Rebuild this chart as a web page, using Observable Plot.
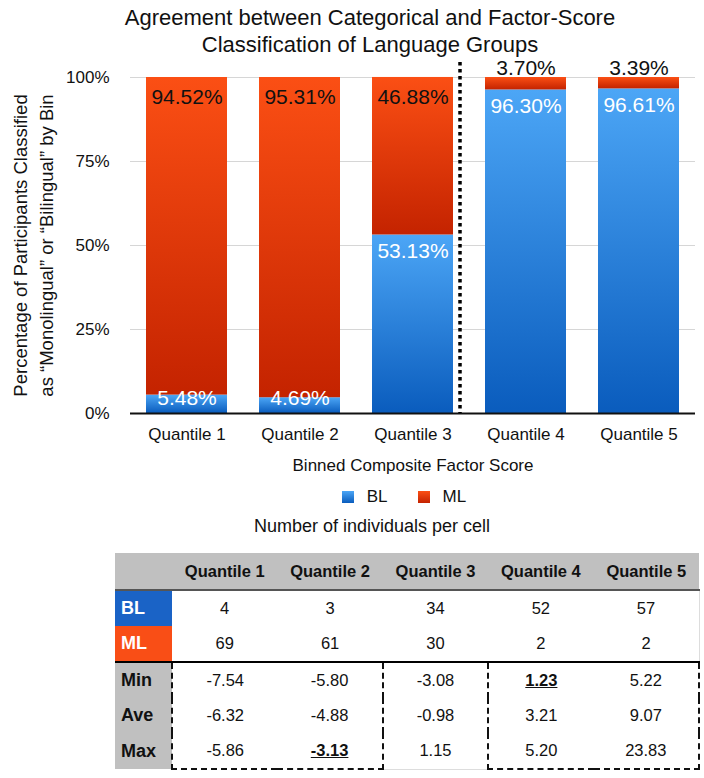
<!DOCTYPE html>
<html>
<head>
<meta charset="utf-8">
<script src="https://cdn.jsdelivr.net/npm/d3@7"></script>
<script src="https://cdn.jsdelivr.net/npm/@observablehq/plot@0.6"></script>
<style>
  html, body { margin: 0; padding: 0; background: #fff; }
  body { width: 704px; font-family: "Liberation Sans", Arial, Helvetica, sans-serif; color: #111; }
  #title { height: 46px; padding-top: 4px; padding-left: 36px; text-align: center; font-size: 22px; line-height: 27px; position: relative; z-index: 2; white-space: nowrap; }
  #chart svg { display: block; }
  #legend { height: 28px; display: flex; align-items: center; justify-content: center; padding-left: 104px; font-size: 17px; }
  #legend .item { display: flex; align-items: center; margin: 0 15px; }
  #legend .sw { width: 12px; height: 12px; margin-right: 13px; }
  #ttitle { height: 30px; line-height: 30px; text-align: center; padding-left: 40px; font-size: 18px; }
  table { border-collapse: collapse; table-layout: fixed; margin-left: 115px; margin-top: 12px; width: 585px; font-size: 16.5px; }
  td, th { text-align: center; height: 35px; padding: 0; }
  th { font-weight: bold; background: #c0c0c0; height: 36px; font-size: 16.5px; }
  tr.head th { border-bottom: 2px solid #555; }
  td.lab { text-align: left; padding-left: 6px; font-weight: bold; font-size: 18px; }
  td.bl { background: #1a63c6; color: #fff; }
  td.ml { background: #f94e16; color: #fff; }
  td.gray { background: #c0c0c0; color: #111; }
  tr.ml td { border-bottom: 2px solid #000; }
  tr.cnt td:last-child { border-right: 1px solid #ddd; }
  .u { font-weight: bold; text-decoration: underline; }
</style>
</head>
<body>
<div id="title">Agreement between Categorical and Factor-Score<br>Classification of Language Groups</div>
<div id="chart"></div>
<div id="legend"></div>
<div id="ttitle">Number of individuals per cell</div>
<div id="table"></div>
<script>
// ---- data ----
const quantiles = ["Quantile 1", "Quantile 2", "Quantile 3", "Quantile 4", "Quantile 5"];
const groups = ["BL", "ML"];
const blPct = [5.48, 4.69, 53.13, 96.30, 96.61];
const mlPct = [94.52, 95.31, 46.88, 3.70, 3.39];
const yTicks = [0, 25, 50, 75, 100];
const blCount = [4, 3, 34, 52, 57];
const mlCount = [69, 61, 30, 2, 2];
const minScore = ["-7.54", "-5.80", "-3.08", "1.23", "5.22"];
const aveScore = ["-6.32", "-4.88", "-0.98", "3.21", "9.07"];
const maxScore = ["-5.86", "-3.13", "1.15", "5.20", "23.83"];
const minEmph = [false, false, false, true, false];
const maxEmph = [false, true, false, false, false];
const dividerAfter = "Quantile 3";

// ---- chart ----
const gradFill = {BL: "url(#gradBL)", ML: "url(#gradML)"};
const rows = [];
quantiles.forEach((q, i) => rows.push({q, group: "BL", value: blPct[i]}));
quantiles.forEach((q, i) => rows.push({q, group: "ML", value: mlPct[i]}));

const blLabels = quantiles.map((q, i) => ({q, v: blPct[i], top: blPct[i], base: 0}));
const mlLabels = quantiles.map((q, i) => ({q, v: mlPct[i], top: 100, base: blPct[i]}));
const fmt = v => v.toFixed(2) + "%";

function defs() {
  const ns = "http://www.w3.org/2000/svg";
  const d = document.createElementNS(ns, "defs");
  const mk = (id, c0, c1) => {
    const g = document.createElementNS(ns, "linearGradient");
    g.setAttribute("id", id);
    g.setAttribute("x1", "0"); g.setAttribute("y1", "0");
    g.setAttribute("x2", "0"); g.setAttribute("y2", "1");
    [[0, c0], [1, c1]].forEach(([o, c]) => {
      const s = document.createElementNS(ns, "stop");
      s.setAttribute("offset", o);
      s.setAttribute("stop-color", c);
      g.appendChild(s);
    });
    d.appendChild(g);
  };
  mk("gradBL", "#4ca6f6", "#0a5cbd");
  mk("gradML", "#fb4f14", "#c42300");
  return d;
}

const chart = Plot.plot({
  width: 704,
  height: 433,
  marginLeft: 130,
  marginRight: 9,
  marginTop: 27,
  marginBottom: 70,
  style: {fontFamily: "Liberation Sans, Arial, Helvetica, sans-serif", color: "#111", background: "transparent", overflow: "visible"},
  x: {type: "band", domain: quantiles, paddingInner: 0.28, paddingOuter: 0.14, label: null},
  y: {domain: [0, 100], label: null},
  color: {type: "identity"},
  marks: [
    defs,
    Plot.gridY(yTicks, {stroke: "#d6d6d6", strokeOpacity: 1}),
    Plot.barY(rows, Plot.stackY({x: "q", y: "value", z: "group", fill: d => gradFill[d.group], order: groups})),
    Plot.ruleY([0], {stroke: "#111", strokeWidth: 2}),
    Plot.ruleX([dividerAfter], {x: d => d, dx: 47, insetTop: -15, stroke: "#000", strokeWidth: 3.5, strokeDasharray: "3.5,3.5"}),
    Plot.axisY({ticks: yTicks, tickFormat: d => d + "%", tickSize: 0, tickPadding: 21, fontSize: 17, label: null}),
    Plot.axisX({tickSize: 0, tickPadding: 14, fontSize: 17, label: null}),
    // BL labels: inside top when the segment is tall, resting on the base otherwise
    Plot.text(blLabels.filter(d => d.v >= 10), {x: "q", y: "top", text: d => fmt(d.v), dy: 16, fill: "#fff", fontSize: 21}),
    Plot.text(blLabels.filter(d => d.v < 10), {x: "q", y: "base", text: d => fmt(d.v), dy: -15, fill: "#fff", fontSize: 21}),
    // ML labels: inside top when tall, above the bar otherwise
    Plot.text(mlLabels.filter(d => d.v >= 10), {x: "q", y: "top", text: d => fmt(d.v), dy: 20, fill: "#111", fontSize: 21}),
    Plot.text(mlLabels.filter(d => d.v < 10), {x: "q", y: "top", text: d => fmt(d.v), dy: -9, fill: "#111", fontSize: 21}),
    Plot.text(["Binned Composite Factor Score"], {frameAnchor: "bottom", dy: 57, fontSize: 17, fill: "#111"}),
    Plot.text(["Percentage of Participants Classified\nas \u201cMonolingual\u201d or \u201cBilingual\u201d by Bin"],
      {frameAnchor: "left", textAnchor: "middle", dx: -99, rotate: -90, fontSize: 18.5, lineHeight: 1.45, fill: "#111"})
  ]
});
document.getElementById("chart").appendChild(chart);

// ---- legend ----
const legendColors = {BL: ["#4ca6f6", "#0a5cbd"], ML: ["#fb4f14", "#c42300"]};
document.getElementById("legend").innerHTML = groups.map(g =>
  `<span class="item"><span class="sw" style="background:linear-gradient(${legendColors[g][0]},${legendColors[g][1]})"></span>${g}</span>`
).join("");

// ---- table ----
const dashed = "2px dashed #111";
function statRow(name, vals, emph) {
  return `<tr><td class="lab gray">${name}</td>` + vals.map((v, i) => {
    const st = [];
    if (i === 0 || i === 3) st.push(`border-left:${dashed}`);
    if (i === 1 || i === 4) st.push(`border-right:${dashed}`);
    if (name === "Max") st.push(i === 2 ? "border-bottom:1px solid #ddd" : `border-bottom:${dashed}`);
    return `<td style="${st.join(";")}"${emph && emph[i] ? ' class="u"' : ""}>${v}</td>`;
  }).join("") + `</tr>`;
}
let html = `<table><colgroup><col style="width:57px">` + quantiles.map(() => `<col>`).join("") + `</colgroup>`;
html += `<tr class="head"><th></th>` + quantiles.map(q => `<th>${q}</th>`).join("") + `</tr>`;
html += `<tr class="cnt"><td class="lab bl">BL</td>` + blCount.map(v => `<td>${v}</td>`).join("") + `</tr>`;
html += `<tr class="cnt ml"><td class="lab ml">ML</td>` + mlCount.map(v => `<td>${v}</td>`).join("") + `</tr>`;
html += statRow("Min", minScore, minEmph);
html += statRow("Ave", aveScore, null);
html += statRow("Max", maxScore, maxEmph);
html += `</table>`;
document.getElementById("table").innerHTML = html;
</script>
</body>
</html>
